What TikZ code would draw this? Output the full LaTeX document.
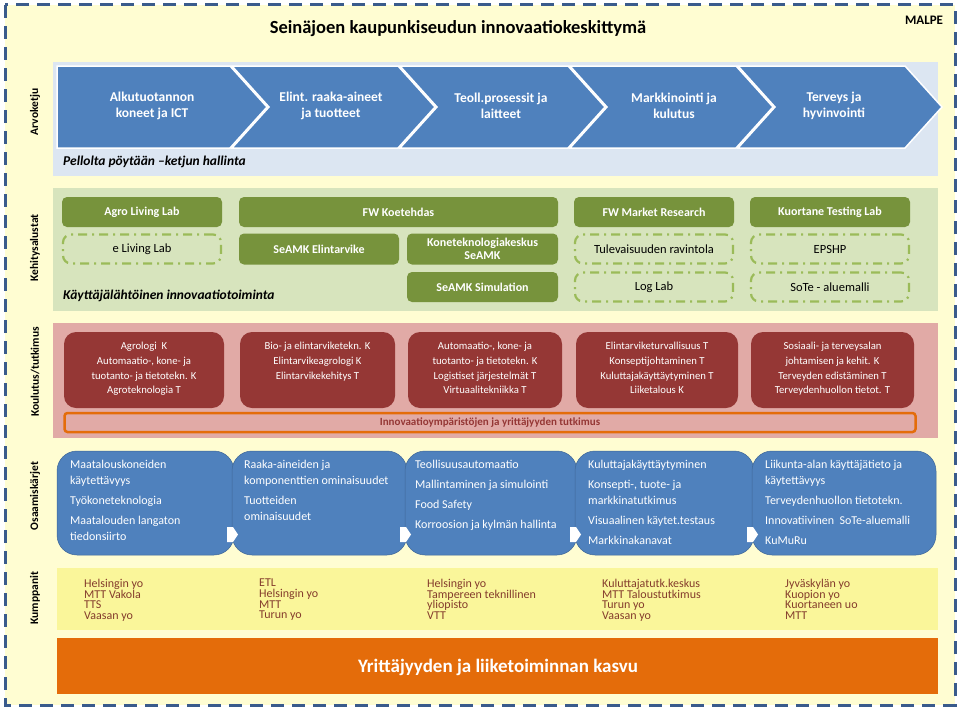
\documentclass[tikz,border=0pt]{standalone}
\usepackage{fontspec}
\setmainfont{Carlito}
\definecolor{bgyel}{HTML}{FFFDD2}
\definecolor{framec}{HTML}{3A5B8C}
\definecolor{chev}{HTML}{4F81BD}
\definecolor{band1}{HTML}{DCE6F2}
\definecolor{band2}{HTML}{D7E4BD}
\definecolor{olive}{HTML}{77933C}
\definecolor{ddline}{HTML}{9BBB59}
\definecolor{band3}{HTML}{E1AAA6}
\definecolor{dred}{HTML}{953735}
\definecolor{orng}{HTML}{E46C0A}
\definecolor{band5}{HTML}{FAF69A}
\definecolor{ktext}{HTML}{843C2C}
\definecolor{oblue}{HTML}{4F81BD}
\tikzset{
  vlabel/.style={rotate=90,font=\fontsize{11.5}{13}\selectfont\bfseries,inner sep=0pt},
  chevtext/.style={text=white,font=\fontsize{13.5}{16.5}\selectfont\bfseries,align=center,inner sep=0pt},
  chevshape/.style={fill=chev,draw=white,line width=1.5pt,line join=miter},
  greenbox/.style={fill=olive,rounded corners=5pt,text=white,font=\fontsize{12}{13.5}\selectfont\bfseries,align=center,minimum height=30pt,inner sep=0pt},
  ddbox/.style={draw=ddline,line width=2.2pt,dash pattern=on 9pt off 5pt on 2pt off 5pt,rounded corners=8pt,font=\fontsize{12.5}{14}\selectfont,minimum width=158pt,minimum height=29pt,inner sep=0pt},
  redbox/.style={fill=dred,rounded corners=12pt,minimum height=76pt,inner sep=0pt},
  redtext/.style={text=white,font=\fontsize{10.7}{14.7}\selectfont,align=center,inner sep=0pt,anchor=north},
  bluebox/.style={fill=oblue,draw=oblue!80!black,line width=0.5pt,rounded corners=20pt},
  bluetext/.style={text=white,font=\fontsize{12}{16}\selectfont,align=left,inner sep=0pt,anchor=north west},
  ktextstyle/.style={text=ktext,font=\fontsize{12}{10.6}\selectfont,align=left,inner sep=0pt,anchor=north west},
  warrow/.style={fill=white}
}
\begin{document}
\begin{tikzpicture}[x=1pt,y=-1pt]
\useasboundingbox (0,0) rectangle (960,709);
\fill[white] (0,0) rectangle (960,709);
% outer frame
\fill[bgyel] (5,5) rectangle (955,705);
\draw[framec,line width=3pt,dash pattern=on 13pt off 8pt] (5,5) rectangle (955,705);
\node[font=\fontsize{18.5}{22}\selectfont\bfseries,inner sep=0pt] (title) at (458,29) {Seinäjoen kaupunkiseudun innovaatiokeskittymä};
\node[font=\fontsize{13}{15}\selectfont\bfseries,inner sep=0pt] (malpe) at (924,20) {MALPE};

% ---------------- Arvoketju
\fill[band1] (53,62) rectangle (938,176);
\node[vlabel] (l1) at (35,112) {Arvoketju};
\path[chevshape] (57,66) -- (230,66) -- (267,107) -- (230,148) -- (57,148) -- cycle;
\path[chevshape] (232,66) -- (398,66) -- (435,107) -- (398,148) -- (232,148) -- (269,107) -- cycle;
\path[chevshape] (400,66) -- (568,66) -- (605,107) -- (568,148) -- (400,148) -- (437,107) -- cycle;
\path[chevshape] (570,66) -- (736,66) -- (773,107) -- (736,148) -- (570,148) -- (607,107) -- cycle;
\path[chevshape] (738,66) -- (905,66) -- (942,107) -- (905,148) -- (738,148) -- (775,107) -- cycle;
\node[chevtext] (c1) at (152,106) {Alkutuotannon\\koneet ja ICT};
\node[chevtext] (c2) at (331,106) {Elint. raaka-aineet\\ja tuotteet};
\node[chevtext] (c3) at (501,106) {Teoll.prosessit ja\\laitteet};
\node[chevtext] (c4) at (674,106) {Markkinointi ja\\kulutus};
\node[chevtext] (c5) at (834,106) {Terveys ja\\hyvinvointi};
\node[anchor=west,inner sep=0pt,font=\fontsize{13.5}{15}\selectfont\bfseries\itshape] (pell) at (63,162) {Pellolta pöytään –ketjun hallinta};

% ---------------- Kehitysalustat
\fill[band2] (53,188) rectangle (938,311);
\node[vlabel] (l2) at (35,248) {Kehitysalustat};
\node[greenbox,minimum width=160pt] (agro) at (142,212) {Agro Living Lab};
\node[ddbox] (elab) at (142,249) {e Living Lab};
\node[greenbox,minimum width=319pt] (fw) at (398.5,212) {FW Koetehdas};
\node[greenbox,minimum width=160pt,minimum height=31pt] (sel) at (319,249) {SeAMK Elintarvike};
\node[greenbox,minimum width=151pt,minimum height=31pt] (kone) at (482.5,249) {Koneteknologiakeskus\\SeAMK};
\node[greenbox,minimum width=151pt] (sim) at (482.5,287) {SeAMK Simulation};
\node[greenbox,minimum width=160pt] (fwm) at (654,212) {FW Market Research};
\node[ddbox] (tul) at (654,249) {Tulevaisuuden ravintola};
\node[ddbox] (log) at (654,287) {Log Lab};
\node[greenbox,minimum width=160pt] (kuo) at (830,212) {Kuortane Testing Lab};
\node[ddbox] (eps) at (830,249) {EPSHP};
\node[ddbox] (sote) at (830,287) {SoTe - aluemalli};
\node[anchor=west,inner sep=0pt,font=\fontsize{13.5}{15}\selectfont\bfseries\itshape] (kayt) at (63,296) {Käyttäjälähtöinen innovaatiotoiminta};

% ---------------- Koulutus/tutkimus
\fill[band3] (53,323) rectangle (938,438);
\node[vlabel] (l3) at (35,372) {Koulutus/tutkimus};
\node[redbox,minimum width=160pt] (k1) at (144,370) {};
\node[redbox,minimum width=155pt] (k2) at (317.5,370) {};
\node[redbox,minimum width=154pt] (k3) at (485,370) {};
\node[redbox,minimum width=162pt] (k4) at (657,370) {};
\node[redbox,minimum width=163pt] (k5) at (832.5,370) {};
\node[redtext] (k1t) at (144,342) {Agrologi\ \ K\\Automaatio-, kone- ja\\tuotanto- ja tietotekn. K\\Agroteknologia T};
\node[redtext] (k2t) at (317.5,342) {Bio- ja elintarviketekn. K\\Elintarvikeagrologi K\\Elintarvikekehitys T};
\node[redtext] (k3t) at (485,342) {Automaatio-, kone- ja\\tuotanto- ja tietotekn. K\\Logistiset järjestelmät T\\Virtuaalitekniikka T};
\node[redtext] (k4t) at (657,342) {Elintarviketurvallisuus T\\Konseptijohtaminen T\\Kuluttajakäyttäytyminen T\\Liiketalous K};
\node[redtext] (k5t) at (832.5,342) {Sosiaali- ja terveysalan\\johtamisen ja kehit. K\\Terveyden edistäminen T\\Terveydenhuollon tietot. T};
\node[draw=orng,line width=2.5pt,rounded corners=3pt,fill=band3,minimum width=851pt,minimum height=19pt,inner sep=0pt,text=dred,font=\fontsize{11}{12}\selectfont\bfseries] (innov) at (490,422.5) {Innovaatioympäristöjen ja yrittäjyyden tutkimus};

% ---------------- Osaamiskärjet
\node[vlabel] (l4) at (35,496) {Osaamiskärjet};
\draw[bluebox] (57,451) rectangle (234,555);
\draw[bluebox] (232,451) rectangle (407,555);
\draw[bluebox] (405,451) rectangle (577,555);
\draw[bluebox] (575,451) rectangle (754,555);
\draw[bluebox] (752,451) rectangle (936,555);
\foreach \L in {232,405,575,752}{
  \fill[warrow] (\L-5,527) -- (\L+1,527) -- (\L+6,534.5) -- (\L+1,542) -- (\L-5,542) -- cycle;
}
\node[bluetext] (o1) at (70,460) {Maatalouskoneiden\\käytettävyys\\[4pt]Työkoneteknologia\\[4pt]Maatalouden langaton\\tiedonsiirto};
\node[bluetext] (o2) at (244,460) {Raaka-aineiden ja\\komponenttien ominaisuudet\\[4pt]Tuotteiden\\ominaisuudet};
\node[bluetext] (o3) at (415,460) {Teollisuusautomaatio\\[4pt]Mallintaminen ja simulointi\\[4pt]Food Safety\\[4pt]Korroosion ja kylmän hallinta};
\node[bluetext] (o4) at (588,460) {Kuluttajakäyttäytyminen\\[4pt]Konsepti-, tuote- ja\\markkinatutkimus\\[4pt]Visuaalinen käytet.testaus\\[4pt]Markkinakanavat};
\node[bluetext] (o5) at (765,460) {Liikunta-alan käyttäjätieto ja\\käytettävyys\\[4pt]Terveydenhuollon tietotekn.\\[4pt]Innovatiivinen\ \ SoTe-aluemalli\\[4pt]KuMuRu};

% ---------------- Kumppanit
\fill[band5] (57,568) rectangle (938,630);
\node[vlabel] (l5) at (35,598) {Kumppanit};
\node[ktextstyle] (p1) at (84,579) {Helsingin yo\\MTT Vakola\\TTS\\Vaasan yo};
\node[ktextstyle] (p2) at (259,579) {ETL\\Helsingin yo\\MTT\\Turun yo};
\node[ktextstyle] (p3) at (427,579) {Helsingin yo\\Tampereen teknillinen\\yliopisto\\VTT};
\node[ktextstyle] (p4) at (602,579) {Kuluttajatutk.keskus\\MTT Taloustutkimus\\Turun yo\\Vaasan yo};
\node[ktextstyle] (p5) at (785,579) {Jyväskylän yo\\Kuopion yo\\Kuortaneen uo\\MTT};

% ---------------- bottom bar
\fill[orng] (57,638) rectangle (938,694);
\node[text=white,font=\fontsize{19}{22}\selectfont\bfseries,inner sep=0pt] (kasvu) at (498,667) {Yrittäjyyden ja liiketoiminnan kasvu};
\end{tikzpicture}
\end{document}
